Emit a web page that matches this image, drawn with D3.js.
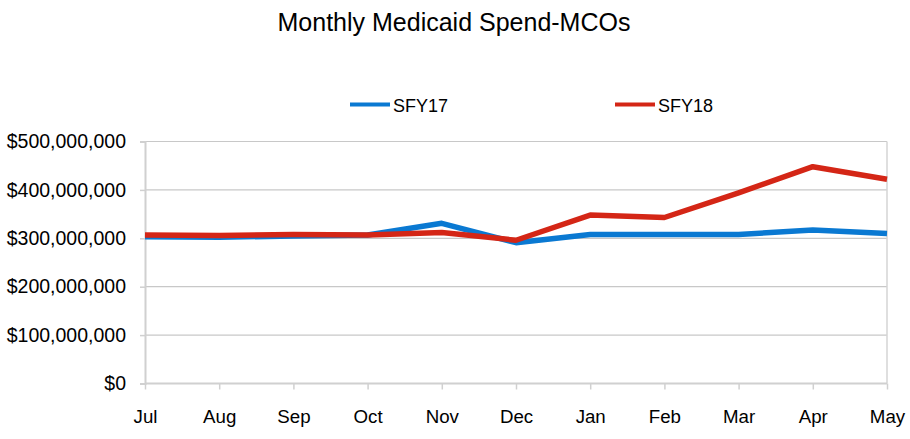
<!DOCTYPE html>
<html><head><meta charset="utf-8">
<script src="https://cdn.jsdelivr.net/npm/d3@7"></script>
<style>body{margin:0;background:#fff;}svg{display:block;font-family:"Liberation Sans",Arial,Helvetica,sans-serif;}</style>
</head><body>
<svg id="c" width="910" height="439"></svg>
<script>
const months = ["Jul","Aug","Sep","Oct","Nov","Dec","Jan","Feb","Mar","Apr","May"];
const sfy17 = [303e6,302e6,305e6,307e6,331e6,291e6,308e6,308e6,308e6,317e6,310e6];
const sfy18 = [307e6,306e6,308e6,307e6,312e6,296e6,348e6,343e6,394e6,448e6,422e6];
const yTicks = [0,100e6,200e6,300e6,400e6,500e6];
const seriesNames = ["SFY17","SFY18"];
const colors = ["#0a79d2","#d42616"];

const svg = d3.select("#c");
const x = d3.scalePoint().domain(months).range([145,887]);
const y = d3.scaleLinear().domain([0,500e6]).range([383.5,141.5]);
const fmt = v => "$" + d3.format(",")(v);
const FF = "'Liberation Sans',Arial,sans-serif";

// title
svg.append("text").attr("x",454).attr("y",31).attr("text-anchor","middle")
  .attr("font-size",25).attr("fill","#000").text("Monthly Medicaid Spend-MCOs");

// gridlines
svg.append("g").selectAll("line").data(yTicks.filter(d=>d>0)).join("line")
  .attr("x1",145).attr("x2",887).attr("y1",d=>y(d)).attr("y2",d=>y(d))
  .attr("stroke","#c8c8c8").attr("stroke-width",1.2);
// right frame
svg.append("line").attr("x1",887).attr("x2",887).attr("y1",y(500e6)).attr("y2",y(0))
  .attr("stroke","#d4d4d4").attr("stroke-width",1.5);

// y axis
const ya = svg.append("g").attr("transform","translate(145,0)")
  .call(d3.axisLeft(y).tickValues(yTicks).tickFormat(fmt).tickSize(5).tickPadding(14));
ya.select(".domain").attr("stroke","#d0d0d0").attr("stroke-width",2);
ya.selectAll(".tick line").attr("stroke","#d0d0d0").attr("stroke-width",1.5);
ya.selectAll("text").attr("font-size",19.5).attr("fill","#000").attr("font-family",FF);

// x axis
const xa = svg.append("g").attr("transform",`translate(0,${y(0)})`)
  .call(d3.axisBottom(x).tickSize(6).tickPadding(20));
xa.select(".domain").attr("stroke","#d0d0d0").attr("stroke-width",2).attr("d",`M145,0H887`);
xa.selectAll(".tick line").attr("stroke","#d0d0d0").attr("stroke-width",1.5);
xa.selectAll("text").attr("font-size",18.7).attr("fill","#000").attr("font-family",FF);

// lines
const line = d3.line().x((d,i)=>x(months[i])).y(d=>y(d));
[sfy17,sfy18].forEach((s,k)=>{
  svg.append("path").datum(s).attr("d",line).attr("fill","none")
    .attr("stroke",colors[k]).attr("stroke-width",5.5).attr("stroke-linejoin","round");
});

// legend
const legX = [350,615];
seriesNames.forEach((n,k)=>{
  svg.append("line").attr("x1",legX[k]).attr("x2",legX[k]+40).attr("y1",104.5).attr("y2",104.5)
    .attr("stroke",colors[k]).attr("stroke-width",4);
  svg.append("text").attr("x",legX[k]+43).attr("y",112).attr("font-size",18).attr("fill","#000").text(n);
});
</script>
</body></html>
